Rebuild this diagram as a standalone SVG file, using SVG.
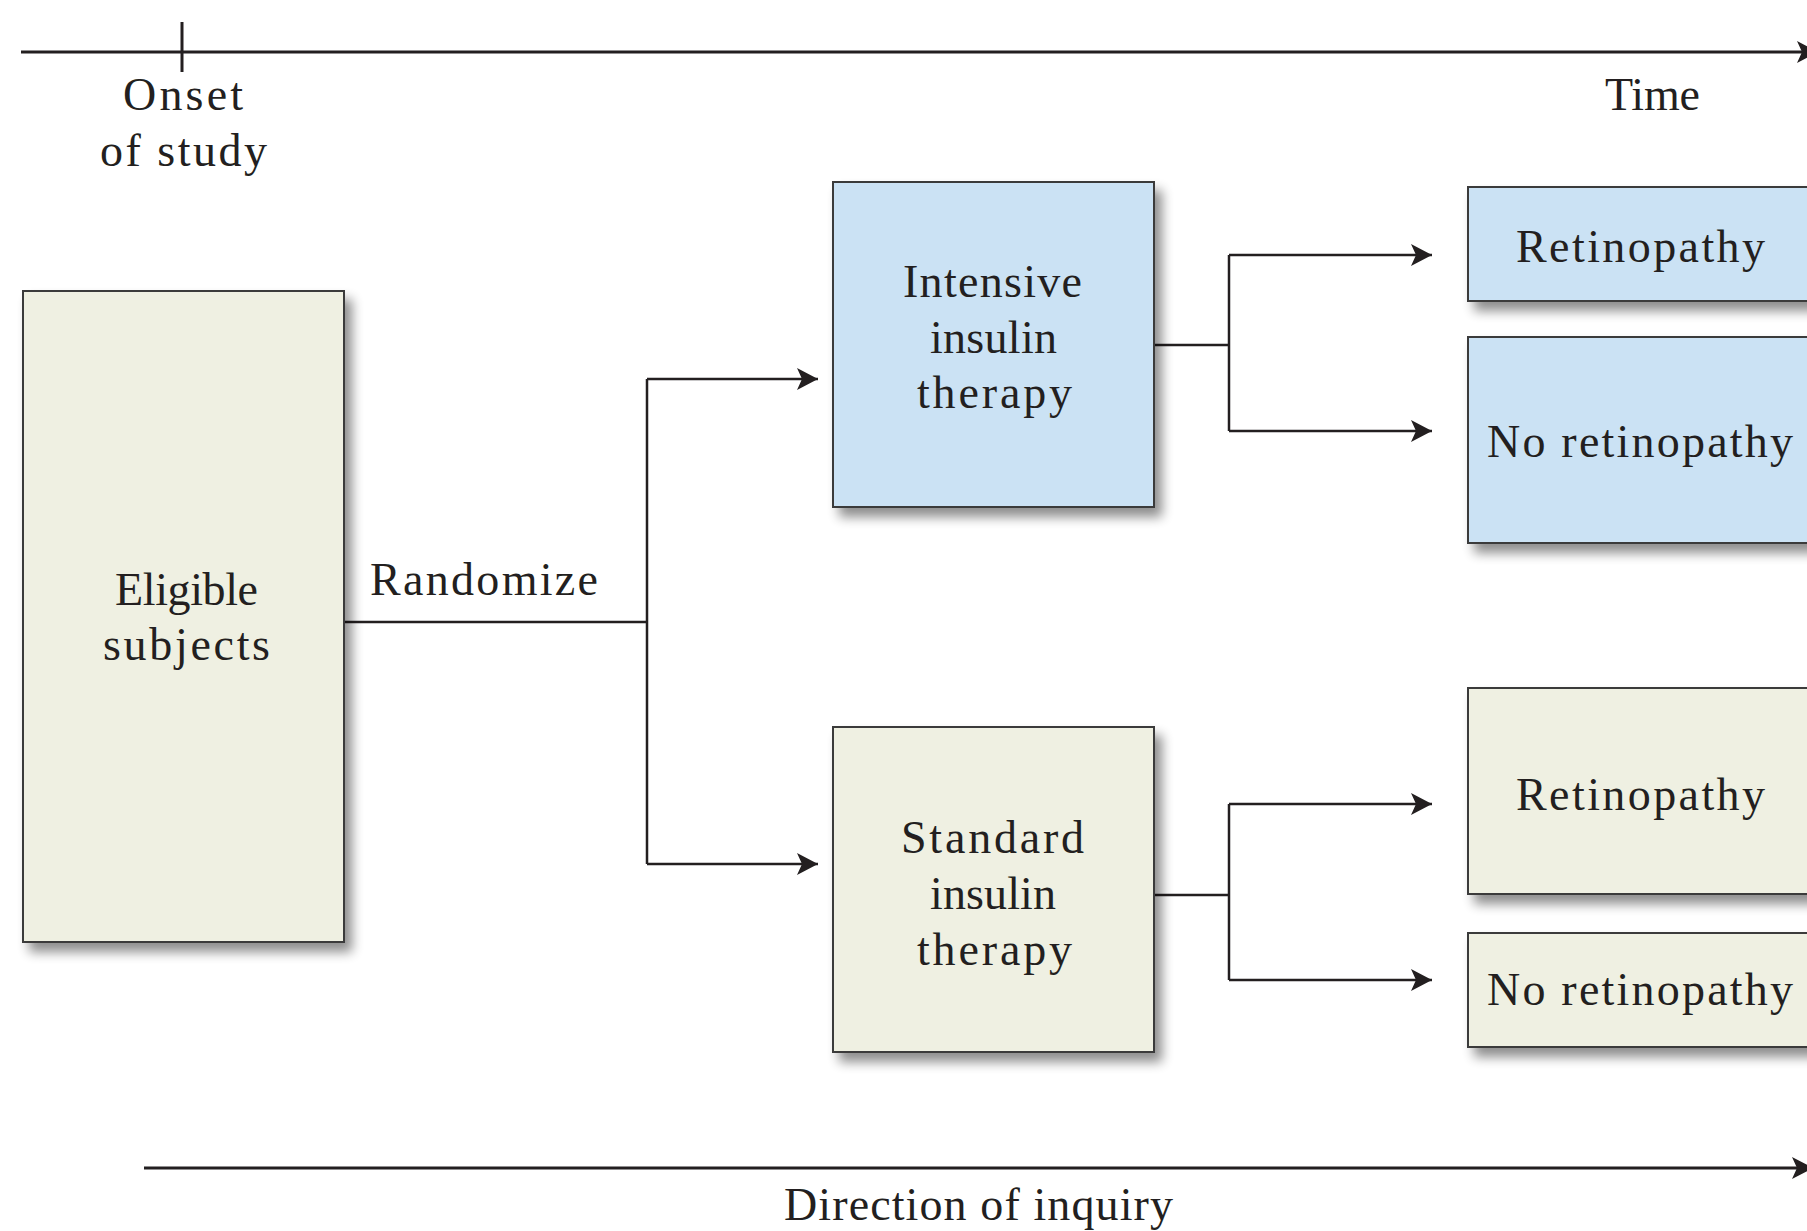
<svg xmlns="http://www.w3.org/2000/svg" width="1807" height="1231" viewBox="0 0 1807 1231">
  <defs>
    <filter id="shadow" x="-10%" y="-10%" width="130%" height="130%">
      <feGaussianBlur in="SourceAlpha" stdDeviation="6"/>
      <feOffset dx="7" dy="9" result="blur"/>
      <feComponentTransfer><feFuncA type="linear" slope="0.45"/></feComponentTransfer>
      <feMerge><feMergeNode/><feMergeNode in="SourceGraphic"/></feMerge>
    </filter>
    <marker id="arrow" markerUnits="userSpaceOnUse" markerWidth="24" markerHeight="24" refX="21" refY="11" orient="auto">
      <path d="M0,0 L21,11 L0,22 L5,11 Z" fill="#231f20"/>
    </marker>
    <style>
      .box { stroke: #3a3a3a; stroke-width: 2; filter: url(#shadow); }
      .blue { fill: #cbe2f4; }
      .beige { fill: #eff0e2; }
      .lbl { font-family: "Liberation Serif", "Times New Roman", serif; font-size: 46px; fill: #231f20; }
      .conn { fill: none; stroke: #231f20; stroke-width: 2.5; }
      .axis { fill: none; stroke: #231f20; stroke-width: 3; }
    </style>
  </defs>
  <rect width="1807" height="1231" fill="#ffffff"/>

  <!-- time axis -->
  <g id="time-axis">
    <line class="axis" x1="21" y1="52" x2="1818" y2="52" marker-end="url(#arrow)"/>
    <line class="axis" x1="182" y1="22" x2="182" y2="72"/>
    <text class="lbl" x="123" y="110" textLength="120" lengthAdjust="spacing">Onset</text>
    <text class="lbl" x="100" y="166" textLength="167" lengthAdjust="spacing">of study</text>
    <text class="lbl" x="1605" y="110" textLength="95" lengthAdjust="spacing">Time</text>
  </g>

  <!-- connectors -->
  <g id="connectors">
    <!-- randomisation split -->
    <polyline class="conn" points="344,622 647,622"/>
    <polyline class="conn" points="647,379 647,864"/>
    <polyline class="conn" points="647,379 818,379" marker-end="url(#arrow)"/>
    <polyline class="conn" points="647,864 818,864" marker-end="url(#arrow)"/>
    <!-- intensive outcomes -->
    <polyline class="conn" points="1154,345 1229,345"/>
    <polyline class="conn" points="1229,255 1229,431"/>
    <polyline class="conn" points="1229,255 1432,255" marker-end="url(#arrow)"/>
    <polyline class="conn" points="1229,431 1432,431" marker-end="url(#arrow)"/>
    <!-- standard outcomes -->
    <polyline class="conn" points="1154,895 1229,895"/>
    <polyline class="conn" points="1229,804 1229,980"/>
    <polyline class="conn" points="1229,804 1432,804" marker-end="url(#arrow)"/>
    <polyline class="conn" points="1229,980 1432,980" marker-end="url(#arrow)"/>
    <text class="lbl" x="370" y="595" textLength="228" lengthAdjust="spacing">Randomize</text>
  </g>

  <!-- nodes -->
  <g id="eligible">
    <rect class="box beige" x="23" y="291" width="321" height="651"/>
    <text class="lbl" x="115" y="605" textLength="143" lengthAdjust="spacing">Eligible</text>
    <text class="lbl" x="103" y="660" textLength="167" lengthAdjust="spacing">subjects</text>
  </g>

  <g id="intensive">
    <rect class="box blue" x="833" y="182" width="321" height="325"/>
    <text class="lbl" x="903" y="297" textLength="179" lengthAdjust="spacing">Intensive</text>
    <text class="lbl" x="930" y="353" textLength="127" lengthAdjust="spacing">insulin</text>
    <text class="lbl" x="917" y="408" textLength="155" lengthAdjust="spacing">therapy</text>
  </g>

  <g id="standard">
    <rect class="box beige" x="833" y="727" width="321" height="325"/>
    <text class="lbl" x="901" y="853" textLength="183" lengthAdjust="spacing">Standard</text>
    <text class="lbl" x="930" y="909" textLength="126" lengthAdjust="spacing">insulin</text>
    <text class="lbl" x="917" y="965" textLength="155" lengthAdjust="spacing">therapy</text>
  </g>

  <g id="intensive-retinopathy">
    <rect class="box blue" x="1468" y="187" width="370" height="114"/>
    <text class="lbl" x="1516" y="262" textLength="249" lengthAdjust="spacing">Retinopathy</text>
  </g>

  <g id="intensive-no-retinopathy">
    <rect class="box blue" x="1468" y="337" width="370" height="206"/>
    <text class="lbl" x="1487" y="457" textLength="306" lengthAdjust="spacing">No retinopathy</text>
  </g>

  <g id="standard-retinopathy">
    <rect class="box beige" x="1468" y="688" width="370" height="206"/>
    <text class="lbl" x="1516" y="810" textLength="249" lengthAdjust="spacing">Retinopathy</text>
  </g>

  <g id="standard-no-retinopathy">
    <rect class="box beige" x="1468" y="933" width="370" height="114"/>
    <text class="lbl" x="1487" y="1005" textLength="306" lengthAdjust="spacing">No retinopathy</text>
  </g>

  <!-- direction of inquiry axis -->
  <g id="inquiry-axis">
    <line class="axis" x1="144" y1="1168" x2="1813" y2="1168" marker-end="url(#arrow)"/>
    <text class="lbl" x="784" y="1220" textLength="389" lengthAdjust="spacing">Direction of inquiry</text>
  </g>
</svg>
